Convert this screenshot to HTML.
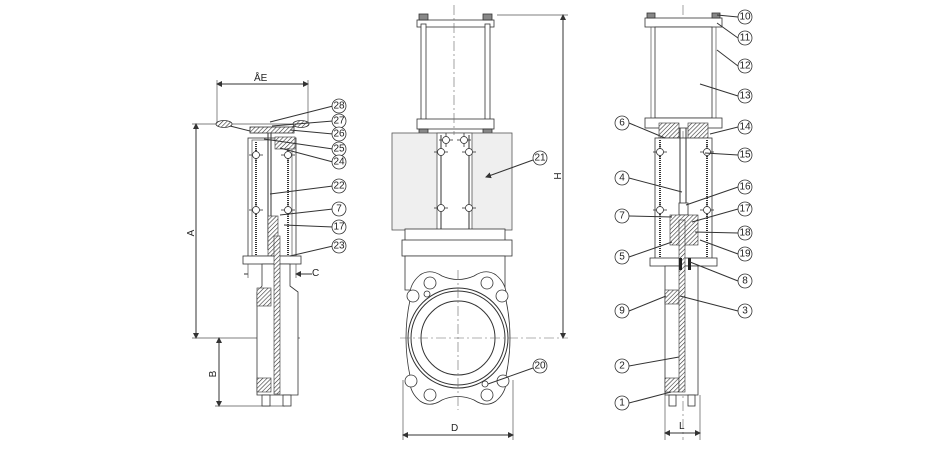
<!DOCTYPE html>
<html><head><meta charset="utf-8"><style>
html,body{margin:0;padding:0;background:#fff;}
svg{display:block;font-family:"Liberation Sans",sans-serif;}
.l{stroke:#333;stroke-width:1;fill:none}
.t{stroke:#555;stroke-width:0.7;fill:none}
.c{stroke:#333;stroke-width:0.8;fill:#fff}
.h{fill:#888;stroke:#333;stroke-width:0.8}
.g{fill:#efefef;stroke:#555;stroke-width:0.8}
.d{stroke:#666;stroke-width:0.6;fill:none;stroke-dasharray:10 3 2 3}
text{font-size:10px;fill:#222}
.n{font-size:10px;text-anchor:middle;dominant-baseline:central}
</style></head><body>
<svg width="940" height="450" viewBox="0 0 940 450">
<defs>
<marker id="a" markerWidth="6" markerHeight="6" refX="5" refY="3" orient="auto"><path d="M0,0L6,3L0,6z" fill="#333"/></marker>
<marker id="b" markerWidth="6" markerHeight="6" refX="1" refY="3" orient="auto"><path d="M6,0L0,3L6,6z" fill="#333"/></marker>
<pattern id="hp" width="3" height="3" patternUnits="userSpaceOnUse" patternTransform="rotate(45)"><rect width="3" height="3" fill="#fff"/><line x1="0" y1="0" x2="0" y2="3" stroke="#333" stroke-width="1.2"/></pattern>
<g id="x"><line x1="-7" y1="0" x2="7" y2="0" stroke="#333" stroke-width="0.8"/><line x1="0" y1="-7" x2="0" y2="7" stroke="#333" stroke-width="0.8"/><circle r="3.5" fill="#fff" stroke="#333" stroke-width="0.8"/></g>
</defs>

<!-- LEFT VIEW -->
<line class="l" x1="217" y1="84" x2="308" y2="84" marker-start="url(#b)" marker-end="url(#a)"/>
<text x="254" y="81">ÅE</text>
<line class="t" x1="217" y1="80" x2="217" y2="124"/><line class="t" x1="308" y1="80" x2="308" y2="124"/>
<line class="t" x1="192" y1="124" x2="300" y2="124"/>
<line class="l" x1="196" y1="124" x2="196" y2="338" marker-start="url(#b)" marker-end="url(#a)"/>
<text x="194" y="233" transform="rotate(-90 194 233)" text-anchor="middle">A</text>
<line class="t" x1="192" y1="338" x2="300" y2="338"/>
<line class="l" x1="219" y1="338" x2="219" y2="406" marker-start="url(#b)" marker-end="url(#a)"/>
<text x="216" y="374" transform="rotate(-90 216 374)" text-anchor="middle">B</text>
<line class="t" x1="215" y1="406" x2="285" y2="406"/>
<ellipse cx="224" cy="124" rx="8" ry="3.5" fill="url(#hp)" stroke="#333" stroke-width="0.8"/>
<ellipse cx="301" cy="124" rx="8" ry="3.5" fill="url(#hp)" stroke="#333" stroke-width="0.8"/>
<path class="l" d="M230,126 L258,133 M295,126 L280,131"/>
<rect x="250" y="127" width="44" height="6" fill="url(#hp)" stroke="#333" stroke-width="0.8"/>
<rect x="248" y="138" width="48" height="120" class="c"/>
<rect x="252" y="140" width="40" height="116" class="t"/>
<line x1="256" y1="142" x2="256" y2="256" stroke="#333" stroke-width="2" stroke-dasharray="1 1"/>
<line x1="288" y1="142" x2="288" y2="256" stroke="#333" stroke-width="2" stroke-dasharray="1 1"/>
<rect x="275" y="137" width="20" height="12" fill="url(#hp)" stroke="#333" stroke-width="0.6"/>
<line class="l" x1="268" y1="133" x2="268" y2="250"/><line class="l" x1="271" y1="133" x2="271" y2="250"/>
<rect x="268" y="216" width="10" height="40" fill="url(#hp)" stroke="#333" stroke-width="0.6"/>
<use href="#x" x="256" y="155"/><use href="#x" x="288" y="155"/>
<use href="#x" x="256" y="210"/><use href="#x" x="288" y="210"/>
<rect x="243" y="256" width="58" height="8" class="c"/>
<path class="c" d="M262,264 L290,264 L290,286 L298,292 L298,395 L257,395 L257,292 L262,286 Z"/>
<rect x="257" y="288" width="14" height="18" fill="url(#hp)" stroke="#333" stroke-width="0.6"/>
<rect x="257" y="378" width="14" height="14" fill="url(#hp)" stroke="#333" stroke-width="0.6"/>
<rect x="274" y="236" width="6" height="158" fill="url(#hp)" stroke="#333" stroke-width="0.6"/>
<rect x="262" y="395" width="8" height="11" class="c"/><rect x="283" y="395" width="8" height="11" class="c"/>
<line class="l" x1="244" y1="274" x2="248" y2="274"/><line class="l" x1="296" y1="274" x2="312" y2="274" marker-start="url(#b)"/>
<line class="t" x1="248" y1="264" x2="248" y2="278"/><line class="t" x1="296" y1="264" x2="296" y2="278"/>
<text x="312" y="276">C</text>
<g class="l">
<line x1="333" y1="106" x2="270" y2="122"/><line x1="333" y1="121" x2="272" y2="126"/><line x1="333" y1="134" x2="290" y2="130"/>
<line x1="333" y1="149" x2="264" y2="139"/><line x1="333" y1="162" x2="280" y2="148"/><line x1="333" y1="186" x2="270" y2="194"/>
<line x1="333" y1="209" x2="280" y2="215"/><line x1="333" y1="227" x2="284" y2="225"/><line x1="333" y1="246" x2="290" y2="256"/>
</g>
<g><circle class="c" cx="339" cy="106" r="7"/><text class="n" x="339" y="106">28</text>
<circle class="c" cx="339" cy="121" r="7"/><text class="n" x="339" y="121">27</text>
<circle class="c" cx="339" cy="134" r="7"/><text class="n" x="339" y="134">26</text>
<circle class="c" cx="339" cy="149" r="7"/><text class="n" x="339" y="149">25</text>
<circle class="c" cx="339" cy="162" r="7"/><text class="n" x="339" y="162">24</text>
<circle class="c" cx="339" cy="186" r="7"/><text class="n" x="339" y="186">22</text>
<circle class="c" cx="339" cy="209" r="7"/><text class="n" x="339" y="209">7</text>
<circle class="c" cx="339" cy="227" r="7"/><text class="n" x="339" y="227">17</text>
<circle class="c" cx="339" cy="246" r="7"/><text class="n" x="339" y="246">23</text></g>

<!-- MIDDLE VIEW -->
<line class="t" x1="497" y1="15" x2="568" y2="15"/>
<line class="l" x1="563" y1="15" x2="563" y2="338" marker-start="url(#b)" marker-end="url(#a)"/>
<text x="561" y="176" transform="rotate(-90 561 176)" text-anchor="middle">H</text>
<rect x="417" y="20" width="77" height="7" class="c"/>
<rect x="421" y="24" width="5" height="100" class="c"/><rect x="485" y="24" width="5" height="100" class="c"/>
<rect x="419" y="14" width="9" height="6" class="h"/><rect x="483" y="14" width="9" height="6" class="h"/>
<rect x="417" y="119" width="77" height="10" class="c"/>
<rect x="419" y="129" width="9" height="7" class="h"/><rect x="483" y="129" width="9" height="7" class="h"/>
<rect x="392" y="133" width="120" height="97" class="g"/>
<rect x="437" y="133" width="35" height="125" fill="#fff" stroke="#555" stroke-width="0.8"/>
<line class="l" x1="441" y1="135" x2="441" y2="258"/><line class="l" x1="469" y1="135" x2="469" y2="258"/>
<use href="#x" x="446" y="140"/><use href="#x" x="464" y="140"/>
<use href="#x" x="441" y="152"/><use href="#x" x="469" y="152"/>
<use href="#x" x="441" y="208"/><use href="#x" x="469" y="208"/>
<use href="#x" x="446" y="260"/><use href="#x" x="464" y="260"/>
<rect x="405" y="229" width="100" height="12" class="c"/>
<rect x="402" y="240" width="110" height="16" class="c"/>
<path class="c" d="M405,256 L505,256 L505,290 L405,290 Z"/>
<path class="c" d="M420,275 Q430,268 442,276 Q458,283 474,276 Q486,268 496,275 Q508,285 506,300 Q514,338 506,376 Q508,391 496,401 Q486,408 474,400 Q458,393 442,400 Q430,408 420,401 Q408,391 410,376 Q402,338 410,300 Q408,285 420,275 Z"/>
<circle class="l" cx="458" cy="338" r="50"/><circle class="l" cx="458" cy="338" r="47"/>
<circle class="l" cx="458" cy="338" r="37" fill="#f7f7f7"/>
<g class="c"><circle cx="430" cy="283" r="6"/><circle cx="487" cy="283" r="6"/><circle cx="413" cy="296" r="6"/><circle cx="502" cy="296" r="6"/>
<circle cx="411" cy="381" r="6"/><circle cx="503" cy="381" r="6"/><circle cx="430" cy="395" r="6"/><circle cx="487" cy="395" r="6"/>
<circle cx="427" cy="294" r="3"/><circle cx="485" cy="384" r="3"/></g>
<line class="d" x1="400" y1="338" x2="568" y2="338"/><line class="d" x1="458" y1="270" x2="458" y2="410"/>
<line class="d" x1="454" y1="5" x2="454" y2="135"/>
<line class="t" x1="403" y1="380" x2="403" y2="440"/><line class="t" x1="513" y1="380" x2="513" y2="440"/>
<line class="l" x1="403" y1="435" x2="513" y2="435" marker-start="url(#b)" marker-end="url(#a)"/>
<text x="451" y="431">D</text>
<line class="l" x1="533" y1="160" x2="486" y2="177" marker-end="url(#a)"/>
<circle class="c" cx="540" cy="158" r="7"/><text class="n" x="540" y="158">21</text>
<line class="l" x1="533" y1="368" x2="488" y2="384"/>
<circle class="c" cx="540" cy="366" r="7"/><text class="n" x="540" y="366">20</text>

<!-- RIGHT VIEW -->
<line class="d" x1="683" y1="5" x2="683" y2="440"/>
<rect x="645" y="18" width="77" height="9" class="c"/>
<rect x="647" y="13" width="8" height="5" class="h"/><rect x="712" y="13" width="8" height="5" class="h"/>
<rect x="655" y="27" width="57" height="91" class="c"/>
<line class="t" x1="651" y1="27" x2="651" y2="118"/><line class="t" x1="716" y1="27" x2="716" y2="118"/>
<rect x="645" y="118" width="77" height="10" class="c"/>
<rect x="659" y="123" width="20" height="15" fill="url(#hp)" stroke="#333" stroke-width="0.6"/>
<rect x="688" y="123" width="20" height="20" fill="url(#hp)" stroke="#333" stroke-width="0.6"/>
<rect x="655" y="138" width="57" height="124" class="c"/>
<line x1="660" y1="140" x2="660" y2="258" stroke="#333" stroke-width="2" stroke-dasharray="1 1"/>
<line x1="707" y1="140" x2="707" y2="258" stroke="#333" stroke-width="2" stroke-dasharray="1 1"/>
<use href="#x" x="660" y="152"/><use href="#x" x="707" y="152"/>
<use href="#x" x="660" y="210"/><use href="#x" x="707" y="210"/>
<line class="l" x1="680" y1="128" x2="680" y2="205"/><line class="l" x1="686" y1="128" x2="686" y2="205"/>
<rect x="679" y="203" width="9" height="12" class="c"/>
<rect x="670" y="215" width="28" height="30" fill="url(#hp)" stroke="#333" stroke-width="0.6"/>
<rect x="650" y="258" width="67" height="8" class="c"/>
<path class="c" d="M665,266 L698,266 L698,395 L665,395 Z"/>
<rect x="665" y="290" width="14" height="14" fill="url(#hp)" stroke="#333" stroke-width="0.6"/>
<rect x="665" y="378" width="14" height="14" fill="url(#hp)" stroke="#333" stroke-width="0.6"/>
<rect x="679" y="220" width="6" height="172" fill="url(#hp)" stroke="#333" stroke-width="0.6"/>
<rect x="679" y="258" width="3" height="12" fill="#222"/><rect x="688" y="258" width="3" height="12" fill="#222"/>
<rect x="669" y="395" width="7" height="11" class="c"/><rect x="688" y="395" width="7" height="11" class="c"/>
<line class="t" x1="665" y1="395" x2="665" y2="440"/><line class="t" x1="700" y1="395" x2="700" y2="440"/>
<line class="l" x1="665" y1="433" x2="700" y2="433" marker-start="url(#b)" marker-end="url(#a)"/>
<text x="679" y="429">L</text>
<g class="l">
<line x1="738" y1="17" x2="717" y2="15"/><line x1="738" y1="38" x2="717" y2="23"/><line x1="738" y1="66" x2="717" y2="50"/>
<line x1="738" y1="96" x2="700" y2="84"/><line x1="738" y1="127" x2="710" y2="134"/><line x1="738" y1="155" x2="705" y2="153"/>
<line x1="738" y1="187" x2="686" y2="205"/><line x1="738" y1="209" x2="692" y2="222"/><line x1="738" y1="233" x2="695" y2="232"/>
<line x1="738" y1="254" x2="700" y2="240"/><line x1="738" y1="281" x2="690" y2="262"/><line x1="738" y1="311" x2="680" y2="296"/>
<line x1="629" y1="123" x2="665" y2="138"/><line x1="629" y1="178" x2="682" y2="192"/><line x1="629" y1="216" x2="672" y2="217"/>
<line x1="629" y1="257" x2="672" y2="242"/><line x1="629" y1="311" x2="666" y2="296"/><line x1="629" y1="366" x2="679" y2="357"/>
<line x1="629" y1="403" x2="671" y2="392"/>
</g>
<g>
<circle class="c" cx="745" cy="17" r="7"/><text class="n" x="745" y="17">10</text>
<circle class="c" cx="745" cy="38" r="7"/><text class="n" x="745" y="38">11</text>
<circle class="c" cx="745" cy="66" r="7"/><text class="n" x="745" y="66">12</text>
<circle class="c" cx="745" cy="96" r="7"/><text class="n" x="745" y="96">13</text>
<circle class="c" cx="745" cy="127" r="7"/><text class="n" x="745" y="127">14</text>
<circle class="c" cx="745" cy="155" r="7"/><text class="n" x="745" y="155">15</text>
<circle class="c" cx="745" cy="187" r="7"/><text class="n" x="745" y="187">16</text>
<circle class="c" cx="745" cy="209" r="7"/><text class="n" x="745" y="209">17</text>
<circle class="c" cx="745" cy="233" r="7"/><text class="n" x="745" y="233">18</text>
<circle class="c" cx="745" cy="254" r="7"/><text class="n" x="745" y="254">19</text>
<circle class="c" cx="745" cy="281" r="7"/><text class="n" x="745" y="281">8</text>
<circle class="c" cx="745" cy="311" r="7"/><text class="n" x="745" y="311">3</text>
<circle class="c" cx="622" cy="123" r="7"/><text class="n" x="622" y="123">6</text>
<circle class="c" cx="622" cy="178" r="7"/><text class="n" x="622" y="178">4</text>
<circle class="c" cx="622" cy="216" r="7"/><text class="n" x="622" y="216">7</text>
<circle class="c" cx="622" cy="257" r="7"/><text class="n" x="622" y="257">5</text>
<circle class="c" cx="622" cy="311" r="7"/><text class="n" x="622" y="311">9</text>
<circle class="c" cx="622" cy="366" r="7"/><text class="n" x="622" y="366">2</text>
<circle class="c" cx="622" cy="403" r="7"/><text class="n" x="622" y="403">1</text>
</g>
</svg>
</body></html>
